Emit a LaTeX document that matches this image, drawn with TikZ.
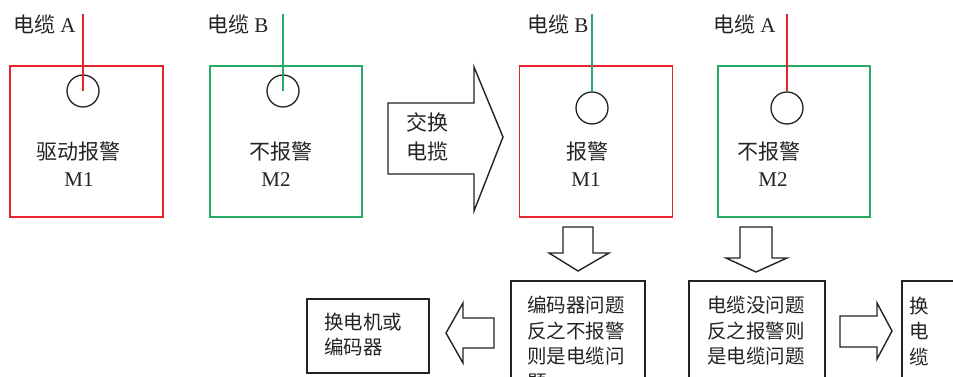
\documentclass[tikz,border=0pt]{standalone}
\usepackage{fontspec}
\setmainfont{Liberation Serif}
\newfontfamily\cjk{Noto Sans CJK SC}
\definecolor{cred}{RGB}{230,36,46}
\definecolor{cgreen}{RGB}{40,170,100}
\definecolor{ink}{RGB}{35,35,35}
\begin{document}
\begin{tikzpicture}[x=1pt,y=-1pt,
  redbox/.style={draw=cred,line width=1.4pt,minimum width=153pt,minimum height=151pt,inner sep=0pt},
  greenbox/.style={draw=cgreen,line width=1.4pt,minimum width=152pt,minimum height=151pt,inner sep=0pt},
  blackbox/.style={draw=ink,line width=1.4pt,inner sep=0pt},
  sensor/.style={draw=ink,circle,line width=1.3pt,minimum size=32pt,inner sep=0pt},
  bigtxt/.style={inner sep=0pt,text=ink,font=\fontsize{21}{25}\selectfont},
  smalltxt/.style={inner sep=0pt,text=ink,font=\cjk\fontsize{19.5}{24}\selectfont,anchor=west},
  blockarrow/.style={draw=ink,line width=1.4pt,line join=miter,fill=white},
  cablered/.style={draw=cred,line width=1.3pt},
  cablegreen/.style={draw=cgreen,line width=1.3pt}]
\useasboundingbox (0,0) rectangle (953,377);
\clip (0,0) rectangle (953,377);

% top boxes
\node[redbox] (b1) at (86.5,141.5) {};
\node[greenbox] (b2) at (286,141.5) {};
\node[redbox] (b3) at (596,141.5) {};
\node[greenbox] (b4) at (794,141.5) {};

% sensors
\node[sensor] (c1) at (83,91) {};
\node[sensor] (c2) at (283,91) {};
\node[sensor] (c3) at (592,108) {};
\node[sensor] (c4) at (787,108) {};

% cables
\coordinate (t1) at (83,14);
\coordinate (t2) at (283,14);
\coordinate (t3) at (592,14);
\coordinate (t4) at (787,14);
\draw[cablered] (t1) -- (c1.center);
\draw[cablegreen] (t2) -- (c2.center);
\draw[cablegreen] (t3) -- (c3.north);
\draw[cablered] (t4) -- (c4.north);

% cable labels
\node[bigtxt,anchor=west] (l1) at (13,25) {{\cjk 电缆} A};
\node[bigtxt,anchor=west] (l2) at (207,25) {{\cjk 电缆} B};
\node[bigtxt,anchor=west] (l3) at (527,25) {{\cjk 电缆} B};
\node[bigtxt,anchor=west] (l4) at (713,25) {{\cjk 电缆} A};

% box texts
\node[bigtxt] (s1) at (78,152) {\cjk 驱动报警};
\node[bigtxt] (m1) at (79,180) {M1};
\node[bigtxt] (s2) at (281,152) {\cjk 不报警};
\node[bigtxt] (m2) at (276,180) {M2};
\node[bigtxt] (s3) at (587,152) {\cjk 报警};
\node[bigtxt] (m3) at (586,180) {M1};
\node[bigtxt] (s4) at (769,152) {\cjk 不报警};
\node[bigtxt] (m4) at (773,180) {M2};

% big swap arrow
\draw[blockarrow] (388,103) -- (474,103) -- (474,67) -- (503,137) -- (474,211) -- (474,174) -- (388,174) -- cycle;
\node[bigtxt,anchor=west] (sw1) at (406,122) {\cjk 交换};
\node[bigtxt,anchor=west] (sw2) at (406,151) {\cjk 电揽};

% down arrows
\draw[blockarrow] (563,227) -- (593,227) -- (593,253) -- (609,253) -- (578,271) -- (549,253) -- (563,253) -- cycle;
\draw[blockarrow] (740,227) -- (772,227) -- (772,258) -- (787,258) -- (756,272) -- (726,258) -- (740,258) -- cycle;

% left and right arrows
\draw[blockarrow] (494,318) -- (463,318) -- (463,303) -- (446,333) -- (463,363) -- (463,348) -- (494,348) -- cycle;
\draw[blockarrow] (840,316) -- (877,316) -- (877,303) -- (892,331) -- (877,359) -- (877,347) -- (840,347) -- cycle;

% bottom boxes
\draw[blackbox] (511,281) rectangle (645,400);
\draw[blackbox] (307,299) rectangle (429,373);
\draw[blackbox] (689,281) rectangle (825,400);
\draw[blackbox] (902,281) rectangle (990,400);

\node[smalltxt] (e1) at (527,305) {编码器问题};
\node[smalltxt] (e2) at (527,331) {反之不报警};
\node[smalltxt] (e3) at (527,356) {则是电缆问};
\node[smalltxt] (e4) at (527,382) {题};

\node[smalltxt] (r1) at (324,322) {换电机或};
\node[smalltxt] (r2) at (324,347) {编码器};

\node[smalltxt] (k1) at (707,305) {电缆没问题};
\node[smalltxt] (k2) at (707,331) {反之报警则};
\node[smalltxt] (k3) at (707,356) {是电缆问题};

\node[smalltxt,anchor=center] (h1) at (919,306) {换};
\node[smalltxt,anchor=center] (h2) at (919,331) {电};
\node[smalltxt,anchor=center] (h3) at (919,357) {缆};
\end{tikzpicture}
\end{document}
